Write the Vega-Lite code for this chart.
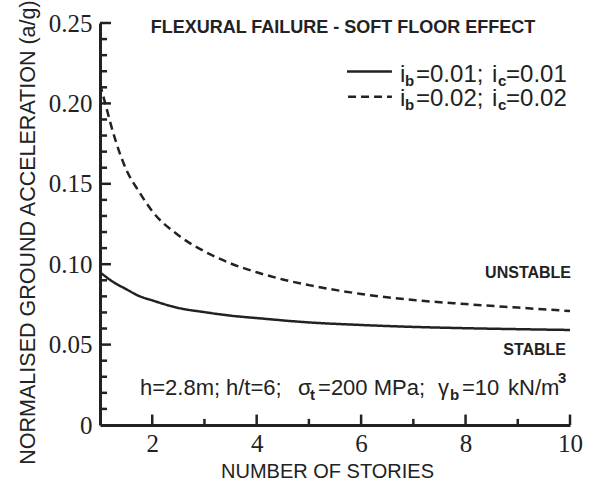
{
  "$schema": "https://vega.github.io/schema/vega-lite/v6.json",
  "width": 470,
  "height": 402,
  "autosize": {"type": "none"},
  "padding": {"left": 100, "top": 23, "right": 20, "bottom": 58},
  "background": "white",
  "config": {"view": {"stroke": null}, "font": "Liberation Sans"},
  "datasets": {
    "curves": [
      {"stories": 1, "acc": 0.095, "series": "i_b=0.01; i_c=0.01"},
      {"stories": 1.25, "acc": 0.089, "series": "i_b=0.01; i_c=0.01"},
      {"stories": 1.5, "acc": 0.0845, "series": "i_b=0.01; i_c=0.01"},
      {"stories": 1.75, "acc": 0.0802, "series": "i_b=0.01; i_c=0.01"},
      {"stories": 2, "acc": 0.0775, "series": "i_b=0.01; i_c=0.01"},
      {"stories": 2.5, "acc": 0.0728, "series": "i_b=0.01; i_c=0.01"},
      {"stories": 3, "acc": 0.0702, "series": "i_b=0.01; i_c=0.01"},
      {"stories": 3.5, "acc": 0.068, "series": "i_b=0.01; i_c=0.01"},
      {"stories": 4, "acc": 0.0665, "series": "i_b=0.01; i_c=0.01"},
      {"stories": 5, "acc": 0.0638, "series": "i_b=0.01; i_c=0.01"},
      {"stories": 6, "acc": 0.0622, "series": "i_b=0.01; i_c=0.01"},
      {"stories": 7, "acc": 0.061, "series": "i_b=0.01; i_c=0.01"},
      {"stories": 8, "acc": 0.0602, "series": "i_b=0.01; i_c=0.01"},
      {"stories": 9, "acc": 0.0596, "series": "i_b=0.01; i_c=0.01"},
      {"stories": 10, "acc": 0.0591, "series": "i_b=0.01; i_c=0.01"},
      {"stories": 1, "acc": 0.212, "series": "i_b=0.02; i_c=0.02"},
      {"stories": 1.1, "acc": 0.2, "series": "i_b=0.02; i_c=0.02"},
      {"stories": 1.25, "acc": 0.182, "series": "i_b=0.02; i_c=0.02"},
      {"stories": 1.5, "acc": 0.159, "series": "i_b=0.02; i_c=0.02"},
      {"stories": 1.75, "acc": 0.145, "series": "i_b=0.02; i_c=0.02"},
      {"stories": 2, "acc": 0.133, "series": "i_b=0.02; i_c=0.02"},
      {"stories": 2.5, "acc": 0.118, "series": "i_b=0.02; i_c=0.02"},
      {"stories": 3, "acc": 0.108, "series": "i_b=0.02; i_c=0.02"},
      {"stories": 3.5, "acc": 0.1005, "series": "i_b=0.02; i_c=0.02"},
      {"stories": 4, "acc": 0.095, "series": "i_b=0.02; i_c=0.02"},
      {"stories": 4.5, "acc": 0.0905, "series": "i_b=0.02; i_c=0.02"},
      {"stories": 5, "acc": 0.087, "series": "i_b=0.02; i_c=0.02"},
      {"stories": 6, "acc": 0.0815, "series": "i_b=0.02; i_c=0.02"},
      {"stories": 7, "acc": 0.0777, "series": "i_b=0.02; i_c=0.02"},
      {"stories": 8, "acc": 0.0752, "series": "i_b=0.02; i_c=0.02"},
      {"stories": 9, "acc": 0.073, "series": "i_b=0.02; i_c=0.02"},
      {"stories": 10, "acc": 0.0709, "series": "i_b=0.02; i_c=0.02"}
    ],
    "legend_lines": [
      {"x": 5.73, "y": 0.2198, "series": "i_b=0.01; i_c=0.01"},
      {"x": 6.59, "y": 0.2198, "series": "i_b=0.01; i_c=0.01"},
      {"x": 5.75, "y": 0.2042, "series": "i_b=0.02; i_c=0.02"},
      {"x": 6.59, "y": 0.2042, "series": "i_b=0.02; i_c=0.02"}
    ],
    "tick_lines": [
      {"id": "x2", "x": 2, "y": 0}, {"id": "x2", "x": 2, "y": 0.0065},
      {"id": "x4", "x": 4, "y": 0}, {"id": "x4", "x": 4, "y": 0.0065},
      {"id": "x6", "x": 6, "y": 0}, {"id": "x6", "x": 6, "y": 0.0065},
      {"id": "x8", "x": 8, "y": 0}, {"id": "x8", "x": 8, "y": 0.0065},
      {"id": "x10", "x": 10, "y": 0}, {"id": "x10", "x": 10, "y": 0.0065},
      {"id": "x3", "x": 3, "y": 0}, {"id": "x3", "x": 3, "y": 0.0038},
      {"id": "x5", "x": 5, "y": 0}, {"id": "x5", "x": 5, "y": 0.0038},
      {"id": "x7", "x": 7, "y": 0}, {"id": "x7", "x": 7, "y": 0.0038},
      {"id": "x9", "x": 9, "y": 0}, {"id": "x9", "x": 9, "y": 0.0038},
      {"id": "y05", "x": 1, "y": 0.05}, {"id": "y05", "x": 1.21, "y": 0.05},
      {"id": "y10", "x": 1, "y": 0.1}, {"id": "y10", "x": 1.21, "y": 0.1},
      {"id": "y15", "x": 1, "y": 0.15}, {"id": "y15", "x": 1.21, "y": 0.15},
      {"id": "y20", "x": 1, "y": 0.2}, {"id": "y20", "x": 1.21, "y": 0.2},
      {"id": "y25", "x": 1, "y": 0.25}, {"id": "y25", "x": 1.21, "y": 0.25},
      {"id": "y01", "x": 1, "y": 0.01}, {"id": "y01", "x": 1.135, "y": 0.01},
      {"id": "y02", "x": 1, "y": 0.02}, {"id": "y02", "x": 1.135, "y": 0.02},
      {"id": "y03", "x": 1, "y": 0.03}, {"id": "y03", "x": 1.135, "y": 0.03},
      {"id": "y04", "x": 1, "y": 0.04}, {"id": "y04", "x": 1.135, "y": 0.04},
      {"id": "y06", "x": 1, "y": 0.06}, {"id": "y06", "x": 1.135, "y": 0.06},
      {"id": "y07", "x": 1, "y": 0.07}, {"id": "y07", "x": 1.135, "y": 0.07},
      {"id": "y08", "x": 1, "y": 0.08}, {"id": "y08", "x": 1.135, "y": 0.08},
      {"id": "y09", "x": 1, "y": 0.09}, {"id": "y09", "x": 1.135, "y": 0.09},
      {"id": "y11", "x": 1, "y": 0.11}, {"id": "y11", "x": 1.135, "y": 0.11},
      {"id": "y12", "x": 1, "y": 0.12}, {"id": "y12", "x": 1.135, "y": 0.12},
      {"id": "y13", "x": 1, "y": 0.13}, {"id": "y13", "x": 1.135, "y": 0.13},
      {"id": "y14", "x": 1, "y": 0.14}, {"id": "y14", "x": 1.135, "y": 0.14},
      {"id": "y16", "x": 1, "y": 0.16}, {"id": "y16", "x": 1.135, "y": 0.16},
      {"id": "y17", "x": 1, "y": 0.17}, {"id": "y17", "x": 1.135, "y": 0.17},
      {"id": "y18", "x": 1, "y": 0.18}, {"id": "y18", "x": 1.135, "y": 0.18},
      {"id": "y19", "x": 1, "y": 0.19}, {"id": "y19", "x": 1.135, "y": 0.19},
      {"id": "y21", "x": 1, "y": 0.21}, {"id": "y21", "x": 1.135, "y": 0.21},
      {"id": "y22", "x": 1, "y": 0.22}, {"id": "y22", "x": 1.135, "y": 0.22},
      {"id": "y23", "x": 1, "y": 0.23}, {"id": "y23", "x": 1.135, "y": 0.23},
      {"id": "y24", "x": 1, "y": 0.24}, {"id": "y24", "x": 1.135, "y": 0.24}
    ],
    "labels": [
      {"kind": "title", "x": 5.653, "y": 0.2469, "text": "FLEXURAL FAILURE - SOFT FLOOR EFFECT"},
      {"kind": "region", "x": 10.02, "y": 0.0945, "text": "UNSTABLE"},
      {"kind": "region", "x": 9.924, "y": 0.0466, "text": "STABLE"},
      {"kind": "main", "x": 6.745, "y": 0.2133, "text": "i"},
      {"kind": "sub", "x": 6.841, "y": 0.2108, "text": "b"},
      {"kind": "main", "x": 7.051, "y": 0.2133, "text": "=0.01;"},
      {"kind": "main", "x": 8.507, "y": 0.2133, "text": "i"},
      {"kind": "sub", "x": 8.622, "y": 0.2108, "text": "c"},
      {"kind": "main", "x": 8.775, "y": 0.2133, "text": "=0.01"},
      {"kind": "main", "x": 6.745, "y": 0.1984, "text": "i"},
      {"kind": "sub", "x": 6.841, "y": 0.1959, "text": "b"},
      {"kind": "main", "x": 7.051, "y": 0.1984, "text": "=0.02;"},
      {"kind": "main", "x": 8.507, "y": 0.1984, "text": "i"},
      {"kind": "sub", "x": 8.622, "y": 0.1959, "text": "c"},
      {"kind": "main", "x": 8.775, "y": 0.1984, "text": "=0.02"},
      {"kind": "param", "x": 1.766, "y": 0.0187, "text": "h=2.8m;"},
      {"kind": "param", "x": 3.413, "y": 0.0187, "text": "h/t=6;"},
      {"kind": "param", "x": 4.792, "y": 0.0187, "text": "σ"},
      {"kind": "sub", "x": 5.021, "y": 0.0156, "text": "t"},
      {"kind": "param", "x": 5.175, "y": 0.0187, "text": "=200 MPa;"},
      {"kind": "param", "x": 7.473, "y": 0.0187, "text": "γ"},
      {"kind": "sub", "x": 7.702, "y": 0.0156, "text": "b"},
      {"kind": "param", "x": 7.932, "y": 0.0187, "text": "=10"},
      {"kind": "param", "x": 8.813, "y": 0.0187, "text": "kN/m"},
      {"kind": "sub", "x": 9.771, "y": 0.0261, "text": "3"}
    ]
  },
  "layer": [
    {
      "data": {"name": "curves"},
      "mark": {"type": "line", "strokeWidth": 2.5, "color": "#222", "interpolate": "monotone"},
      "encoding": {
        "x": {
          "field": "stories", "type": "quantitative",
          "scale": {"domain": [1, 10], "nice": false, "zero": false},
          "axis": {
            "values": [2, 4, 6, 8, 10],
            "format": "d",
            "ticks": false,
            "domainColor": "#222", "domainWidth": 3,
            "grid": false, "labelOverlap": false, "labelFlush": false, "labelBound": false,
            "labelFont": "Liberation Serif", "labelFontSize": 25, "labelColor": "#222", "labelPadding": 6,
            "title": "NUMBER OF STORIES", "titleFont": "Liberation Sans", "titleFontSize": 20,
            "titleFontWeight": "normal", "titleColor": "#222", "titleX": 227, "titleY": 36, "titleBaseline": "top"
          }
        },
        "y": {
          "field": "acc", "type": "quantitative",
          "scale": {"domain": [0, 0.25], "nice": false},
          "axis": {
            "values": [0, 0.05, 0.1, 0.15, 0.2, 0.25],
            "labelExpr": "datum.value == 0 ? '0' : format(datum.value, '.2f')",
            "ticks": false,
            "domainColor": "#222", "domainWidth": 3,
            "grid": false, "labelOverlap": false, "labelFlush": false, "labelBound": false,
            "labelFont": "Liberation Serif", "labelFontSize": 25, "labelColor": "#222", "labelPadding": 8,
            "title": "NORMALISED GROUND ACCELERATION (a/g)", "titleFont": "Liberation Sans", "titleFontSize": 21.5,
            "titleFontWeight": "normal", "titleColor": "#222", "titlePadding": 9, "titleY": 209
          }
        },
        "detail": {"field": "series"},
        "strokeDash": {
          "field": "series", "type": "nominal",
          "scale": {"domain": ["i_b=0.01; i_c=0.01", "i_b=0.02; i_c=0.02"], "range": [[1, 0], [8, 5]]},
          "legend": null
        }
      }
    },
    {
      "data": {"name": "legend_lines"},
      "mark": {"type": "line", "strokeWidth": 2.5, "color": "#222"},
      "encoding": {
        "x": {"field": "x", "type": "quantitative"},
        "y": {"field": "y", "type": "quantitative"},
        "detail": {"field": "series"},
        "strokeDash": {"field": "series", "type": "nominal", "legend": null}
      }
    },
    {
      "data": {"name": "tick_lines"},
      "mark": {"type": "line", "strokeWidth": 2.5, "color": "#222"},
      "encoding": {
        "x": {"field": "x", "type": "quantitative"},
        "y": {"field": "y", "type": "quantitative"},
        "detail": {"field": "id", "type": "nominal"}
      }
    },
    {
      "data": {"name": "labels"},
      "transform": [{"filter": "datum.kind == 'title'"}],
      "mark": {"type": "text", "font": "Liberation Sans", "fontWeight": "bold", "fontSize": 18, "align": "center", "baseline": "middle", "color": "#222"},
      "encoding": {
        "x": {"field": "x", "type": "quantitative"},
        "y": {"field": "y", "type": "quantitative"},
        "text": {"field": "text"}
      }
    },
    {
      "data": {"name": "labels"},
      "transform": [{"filter": "datum.kind == 'region'"}],
      "mark": {"type": "text", "font": "Liberation Sans", "fontWeight": "bold", "fontSize": 16, "align": "right", "baseline": "middle", "color": "#222"},
      "encoding": {
        "x": {"field": "x", "type": "quantitative"},
        "y": {"field": "y", "type": "quantitative"},
        "text": {"field": "text"}
      }
    },
    {
      "data": {"name": "labels"},
      "transform": [{"filter": "datum.kind == 'main'"}],
      "mark": {"type": "text", "font": "Liberation Sans", "fontSize": 24, "align": "left", "baseline": "alphabetic", "color": "#222"},
      "encoding": {
        "x": {"field": "x", "type": "quantitative"},
        "y": {"field": "y", "type": "quantitative"},
        "text": {"field": "text"}
      }
    },
    {
      "data": {"name": "labels"},
      "transform": [{"filter": "datum.kind == 'param'"}],
      "mark": {"type": "text", "font": "Liberation Sans", "fontSize": 22, "align": "left", "baseline": "alphabetic", "color": "#222"},
      "encoding": {
        "x": {"field": "x", "type": "quantitative"},
        "y": {"field": "y", "type": "quantitative"},
        "text": {"field": "text"}
      }
    },
    {
      "data": {"name": "labels"},
      "transform": [{"filter": "datum.kind == 'sub'"}],
      "mark": {"type": "text", "font": "Liberation Sans", "fontWeight": "bold", "fontSize": 15, "align": "left", "baseline": "alphabetic", "color": "#222"},
      "encoding": {
        "x": {"field": "x", "type": "quantitative"},
        "y": {"field": "y", "type": "quantitative"},
        "text": {"field": "text"}
      }
    }
  ]
}
